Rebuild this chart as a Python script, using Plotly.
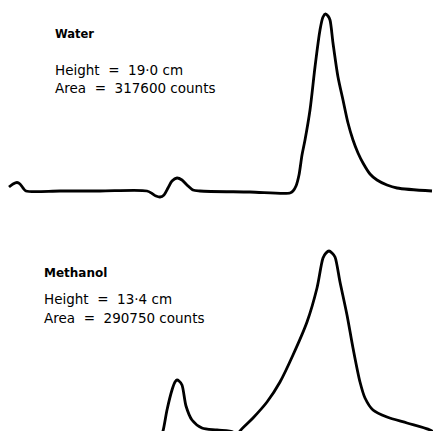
import plotly.graph_objects as go

# Water trace (time units, detector response)
water_t = [9, 13, 17, 20, 23, 26, 60, 100, 147, 152, 156, 160, 164, 168, 172, 177, 182, 187, 193, 200,
           250, 290, 293, 296, 299, 302, 305, 310, 315, 320, 323, 325.5, 328, 330, 333, 338, 343, 348,
           353, 358, 363, 370, 377, 387, 397, 432]
water_r = [4, 7, 8.5, 7, 3, 0, 0, 0, 0, -2.5, -5, -6, -4, 3, 10, 13, 11, 6, 1, 0,
           -1, -2, 0, 5, 16, 36, 51, 81, 124, 161, 174, 177, 175, 171, 148, 114, 91, 68,
           51, 38, 28, 17, 11, 6, 3, 0]

# Methanol trace
meth_t = [160, 163, 167, 172, 175, 177, 179, 182, 186, 192, 202, 217, 233,
          236, 240, 253, 267, 280, 293, 307, 317, 323, 326, 329, 332, 335, 340, 347, 353, 360,
          365, 373, 387, 407, 430, 436]
meth_r = [-8, 0, 21, 41, 49, 51, 50, 46, 25, 11, 3, 1, -1,
          -8, 0, 13, 29, 49, 76, 109, 143, 173, 178, 180, 178, 174, 149, 116, 83, 49,
          33, 21, 14, 8, 1, -3]

labels_water = ["Water", "Height  =  19·0 cm", "Area  =  317600 counts"]
labels_meth = ["Methanol", "Height  =  13·4 cm", "Area  =  290750 counts"]

W, H = 433, 431
fig = go.Figure()
line = dict(color="black", width=2.8, shape="spline", smoothing=0.8)
fig.add_trace(go.Scatter(x=water_t, y=water_r, mode="lines", line=line, xaxis="x", yaxis="y",
                         hoverinfo="skip"))
fig.add_trace(go.Scatter(x=meth_t, y=meth_r, mode="lines", line=line, xaxis="x2", yaxis="y2",
                         hoverinfo="skip"))

ax = dict(visible=False, showgrid=False, zeroline=False, fixedrange=True)
fig.update_layout(
    width=W, height=H, margin=dict(l=0, r=0, t=0, b=0),
    paper_bgcolor="white", plot_bgcolor="white", showlegend=False,
    xaxis=dict(ax, range=[0, W], domain=[0, 1]),
    yaxis=dict(ax, range=[-24.5, 191], domain=[0.5, 1]),
    xaxis2=dict(ax, range=[0, W], domain=[0, 1], anchor="y2"),
    yaxis2=dict(ax, range=[0, 215.5], domain=[0, 0.5], anchor="x2"),
)

fam = "DejaVu Sans, sans-serif"
def add_labels(labels, x, ys, tsize):
    for i, (txt, yy) in enumerate(zip(labels, ys)):
        fig.add_annotation(text=txt, x=x / W, y=1 - yy / H, xref="paper", yref="paper",
                           xanchor="left", yanchor="middle", showarrow=False,
                           font=dict(family=fam, size=tsize if i == 0 else 13.5, color="black",
                                     weight="bold" if i == 0 else "normal"))

add_labels(labels_water, 53, [33.5, 69.5, 87.5], 11.5)
add_labels(labels_meth, 42, [272.5, 299, 318], 12)

fig.write_html("out.html")
